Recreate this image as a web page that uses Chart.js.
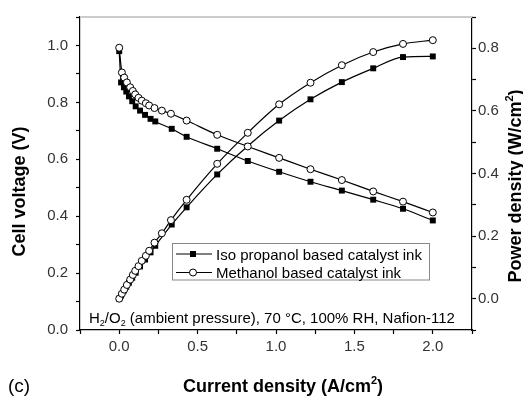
<!DOCTYPE html>
<html>
<head>
<meta charset="utf-8">
<script src="https://cdn.jsdelivr.net/npm/chart.js@4.4.1/dist/chart.umd.min.js"></script>
<style>
  html, body { margin: 0; padding: 0; background: #fff; }
</style>
</head>
<body>
<canvas id="fuelCellChart" width="523" height="398"></canvas>
<script>
// values
const isoCurrent = [0, 0.012, 0.03, 0.045, 0.062, 0.083, 0.105, 0.133, 0.165, 0.2, 0.23, 0.335, 0.43, 0.625, 0.82, 1.02, 1.22, 1.42, 1.62, 1.81, 2.0];
const isoVoltage = [0.980, 0.870, 0.853, 0.838, 0.821, 0.804, 0.786, 0.771, 0.756, 0.742, 0.733, 0.707, 0.679, 0.637, 0.594, 0.556, 0.521, 0.490, 0.458, 0.426, 0.385];
const isoPower = [0, 0.010, 0.026, 0.038, 0.051, 0.067, 0.083, 0.103, 0.125, 0.148, 0.169, 0.237, 0.292, 0.397, 0.488, 0.569, 0.637, 0.692, 0.736, 0.772, 0.774];

const methCurrent = [0, 0.017, 0.032, 0.049, 0.070, 0.087, 0.102, 0.123, 0.144, 0.170, 0.191, 0.225, 0.272, 0.330, 0.43, 0.625, 0.82, 1.02, 1.22, 1.42, 1.62, 1.81, 2.0];
const methVoltage = [0.992, 0.905, 0.887, 0.870, 0.853, 0.840, 0.828, 0.816, 0.806, 0.797, 0.789, 0.780, 0.771, 0.760, 0.736, 0.686, 0.645, 0.605, 0.565, 0.527, 0.487, 0.451, 0.413];
const methPower = [0, 0.016, 0.029, 0.044, 0.061, 0.076, 0.089, 0.104, 0.121, 0.137, 0.153, 0.179, 0.209, 0.251, 0.316, 0.431, 0.530, 0.621, 0.690, 0.746, 0.788, 0.814, 0.826];

const seriesLabels = ['Iso propanol based catalyst ink', 'Methanol based catalyst ink'];
const currentTicks = [0, 0.5, 1.0, 1.5, 2.0];
const voltageTicks = [0, 0.2, 0.4, 0.6, 0.8, 1.0];
const powerTicks = [0, 0.2, 0.4, 0.6, 0.8];

const FONT = "'Liberation Sans', Arial, sans-serif";

function pairs(xs, ys) {
    return xs.map((x, i) => ({ x: x, y: ys[i] }));
}

function majorLabel(list) {
    return v => list.some(t => Math.abs(t - v) < 1e-6) ? Number(v).toFixed(1) : '';
}

// text with sub/superscripts: parts = [[text, 0|1|2]] 0 normal, 1 sub, 2 sup
function drawRich(ctx, parts, x, y, size, weight, align) {
    const small = Math.round(size * 0.62);
    let total = 0;
    parts.forEach(p => {
        ctx.font = weight + ' ' + (p[1] ? small : size) + 'px ' + FONT;
        total += ctx.measureText(p[0]).width;
    });
    let cx = align === 'center' ? x - total / 2 : x;
    ctx.textAlign = 'left';
    ctx.textBaseline = 'alphabetic';
    parts.forEach(p => {
        ctx.font = weight + ' ' + (p[1] ? small : size) + 'px ' + FONT;
        let dy = p[1] === 1 ? size * 0.22 : (p[1] === 2 ? -size * 0.45 : 0);
        ctx.fillText(p[0], cx, y + dy);
        cx += ctx.measureText(p[0]).width;
    });
}

const decorations = {
    id: 'decorations',
    afterDraw(chart) {
        const ctx = chart.ctx;
        const area = chart.chartArea;
        ctx.save();

        // light frame line on top
        ctx.strokeStyle = '#cccccc';
        ctx.lineWidth = 2;
        ctx.beginPath();
        ctx.moveTo(area.left, area.top);
        ctx.lineTo(area.right, area.top);
        ctx.stroke();

        ctx.fillStyle = '#000';

        // axis titles
        ctx.save();
        ctx.translate(25, 191.5);
        ctx.rotate(-Math.PI / 2);
        drawRich(ctx, [['Cell voltage (V)', 0]], 0, 0, 18, 'bold', 'center');
        ctx.restore();

        ctx.save();
        ctx.translate(521, 186);
        ctx.rotate(-Math.PI / 2);
        drawRich(ctx, [['Power density (W/cm', 0], ['2', 2], [')', 0]], 0, 0, 18, 'bold', 'center');
        ctx.restore();

        drawRich(ctx, [['Current density (A/cm', 0], ['2', 2], [')', 0]], 283, 392, 18, 'bold', 'center');

        drawRich(ctx, [['(c)', 0]], 8, 392, 19, 'normal', 'left');

        // conditions
        drawRich(ctx, [['H', 0], ['2', 1], ['/O', 0], ['2', 1], [' (ambient pressure), 70 \u00B0C, 100% RH, Nafion-112', 0]],
            89, 322.5, 15, 'normal', 'left');

        // legend box
        ctx.strokeStyle = '#888';
        ctx.lineWidth = 1;
        ctx.strokeRect(172.5, 243.5, 257, 36.5);
        const rows = [259.5, 278];
        rows.forEach((base, i) => {
            const my = base - 5.5;
            ctx.strokeStyle = '#000';
            ctx.lineWidth = 1.2;
            ctx.beginPath();
            ctx.moveTo(176, my);
            ctx.lineTo(212, my);
            ctx.stroke();
            if (i === 0) {
                ctx.fillStyle = '#000';
                ctx.fillRect(190, my - 3, 6, 6);
            } else {
                ctx.fillStyle = '#fff';
                ctx.beginPath();
                ctx.arc(193, my, 3.5, 0, Math.PI * 2);
                ctx.fill();
                ctx.lineWidth = 1;
                ctx.stroke();
            }
            ctx.fillStyle = '#000';
            drawRich(ctx, [[seriesLabels[i], 0]], 216, base, 15, 'normal', 'left');
        });

        ctx.restore();
    }
};

const tickFont = { family: FONT, size: 15 };
const axisGrid = { drawOnChartArea: false, drawTicks: true, tickLength: 4, tickColor: '#000', tickWidth: 1.2 };
const axisBorder = { display: true, color: '#000', width: 1.2 };

new Chart(document.getElementById('fuelCellChart').getContext('2d'), {
    type: 'line',
    data: {
        datasets: [
            {
                label: seriesLabels[1] + ' (V)',
                data: pairs(methCurrent, methVoltage),
                yAxisID: 'y',
                order: 0,
                pointStyle: 'circle',
                pointRadius: 3.5,
                pointBackgroundColor: '#fff',
                pointBorderColor: '#000',
                pointBorderWidth: 1
            },
            {
                label: seriesLabels[1] + ' (P)',
                data: pairs(methCurrent, methPower),
                yAxisID: 'y1',
                order: 0,
                pointStyle: 'circle',
                pointRadius: 3.5,
                pointBackgroundColor: '#fff',
                pointBorderColor: '#000',
                pointBorderWidth: 1
            },
            {
                label: seriesLabels[0] + ' (V)',
                data: pairs(isoCurrent, isoVoltage),
                yAxisID: 'y',
                order: 1,
                pointStyle: 'rect',
                pointRadius: 4.2,
                pointBackgroundColor: '#000',
                pointBorderColor: '#000',
                pointBorderWidth: 0
            },
            {
                label: seriesLabels[0] + ' (P)',
                data: pairs(isoCurrent, isoPower),
                yAxisID: 'y1',
                order: 1,
                pointStyle: 'rect',
                pointRadius: 4.2,
                pointBackgroundColor: '#000',
                pointBorderColor: '#000',
                pointBorderWidth: 0
            }
        ]
    },
    options: {
        responsive: false,
        animation: false,
        layout: { padding: { top: 14, left: 0, right: 0, bottom: 0 } },
        elements: {
            line: { borderColor: '#000', borderWidth: 1.2, cubicInterpolationMode: 'monotone', fill: false }
        },
        scales: {
            x: {
                type: 'linear',
                position: 'bottom',
                min: -0.25,
                max: 2.25,
                grid: axisGrid,
                border: axisBorder,
                ticks: {
                    stepSize: 0.25,
                    includeBounds: false,
                    autoSkip: false,
                    maxRotation: 0,
                    padding: 4,
                    color: '#333',
                    font: tickFont,
                    callback: majorLabel(currentTicks)
                },
                afterFit(s) { s.height = 68; }
            },
            y: {
                position: 'left',
                min: 0,
                max: 1.1,
                grid: axisGrid,
                border: axisBorder,
                ticks: {
                    stepSize: 0.1,
                    includeBounds: false,
                    autoSkip: false,
                    padding: 8,
                    color: '#333',
                    font: tickFont,
                    callback: majorLabel(voltageTicks)
                },
                afterFit(s) { s.width = 80; }
            },
            y1: {
                position: 'right',
                min: -0.1,
                max: 0.9,
                grid: axisGrid,
                border: axisBorder,
                ticks: {
                    stepSize: 0.1,
                    includeBounds: false,
                    autoSkip: false,
                    padding: 2,
                    color: '#333',
                    font: tickFont,
                    callback: majorLabel(powerTicks)
                },
                afterFit(s) { s.width = 51; }
            }
        },
        plugins: {
            legend: { display: false },
            tooltip: { enabled: false }
        }
    },
    plugins: [decorations]
});
</script>
</body>
</html>
